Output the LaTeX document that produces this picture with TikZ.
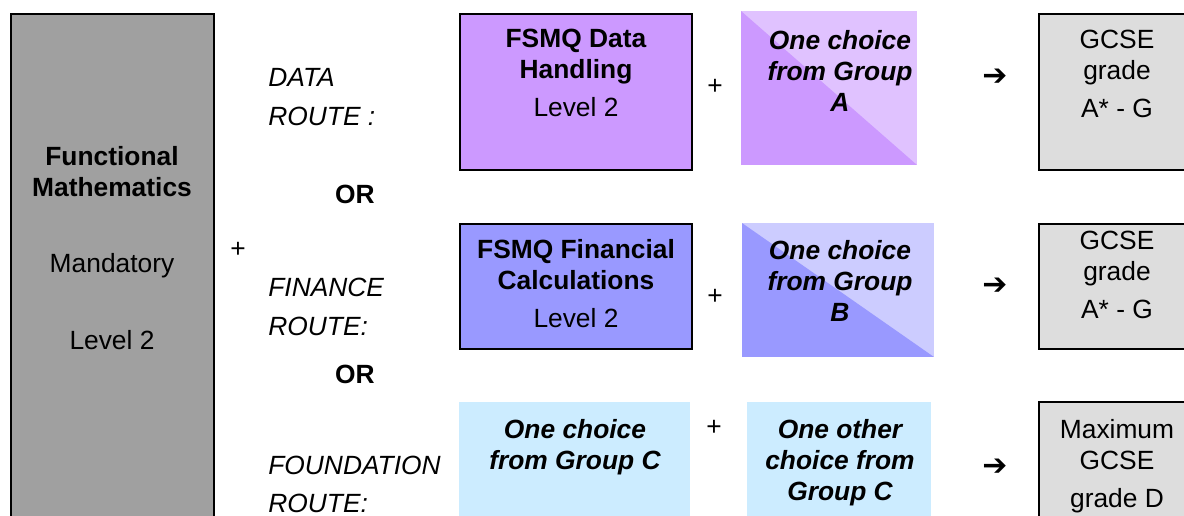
\documentclass[tikz,border=0pt]{standalone}
\usepackage{fontspec}
\setmainfont{Liberation Sans}
\newfontfamily\arrowfont{DejaVu Sans}
\usepackage{tikz}

\definecolor{fmgray}{HTML}{A0A0A0}
\definecolor{datapurple}{HTML}{CC99FF}
\definecolor{datalight}{HTML}{E0C2FF}
\definecolor{finblue}{HTML}{9999FF}
\definecolor{finlight}{HTML}{CCCCFF}
\definecolor{foundcyan}{HTML}{CCECFF}
\definecolor{gcsegray}{HTML}{DDDDDD}

\begin{document}
\begin{tikzpicture}[x=0.02cm, y=-0.02cm,
	every node/.style={font=\fontsize{15}{17.6}\selectfont, inner sep=0pt},
	unitbox/.style={draw=black, line width=1.1pt, fill=#1},
	splitbox/.style 2 args={fill=#2, path picture={
		\fill[#1] (path picture bounding box.north west) -- (path picture bounding box.south east)
			-- (path picture bounding box.south west) -- cycle;}},
	gcsebox/.style={draw=black, line width=1.1pt, fill=gcsegray},
	boxtext/.style={anchor=north, align=center},
	choicetext/.style={anchor=north, align=center, font=\fontsize{15}{17.6}\selectfont\bfseries\itshape},
	routetext/.style={anchor=north west, align=left, font=\fontsize{15}{17.6}\selectfont\itshape},
	ortext/.style={font=\fontsize{15}{17.6}\selectfont\bfseries},
	arrowsign/.style={font=\fontsize{17}{17}\arrowfont\bfseries},
	sign/.style={}]

	\useasboundingbox (0,0) rectangle (1184,515);

	% mandatory column
	\node[draw=black, line width=0.8pt, fill=fmgray, minimum width=4.06cm, minimum height=10.32cm] (fm) at (112.5, 272) {};
	\node[boxtext] (fmtext) at (112, 146) {\textbf{Functional}\\\textbf{Mathematics}\\[26pt]Mandatory\\[26pt]Level 2};
	\node[sign] (plusfm) at (238, 250) {+};

	% data route
	\node[routetext] (dataroute) at (268, 68) {DATA\\[4.5pt]ROUTE :};
	\node[unitbox=datapurple, minimum width=4.64cm, minimum height=3.12cm] (data) at (576, 92) {};
	\node[boxtext] (datatext) at (576, 29) {\textbf{FSMQ Data}\\\textbf{Handling}\\[4pt]Level 2};
	\node[sign] (plusa) at (715, 87) {+};
	\node[splitbox={datapurple}{datalight}, minimum width=3.52cm, minimum height=3.08cm] (grpa) at (829, 88) {};
	\node[choicetext] (grpatext) at (840, 30) {One choice\\from Group\\A};
	\node[arrowsign] (arra) at (995, 77) {➔};
	\node[gcsebox, minimum width=3.02cm, minimum height=3.12cm] (gcsea) at (1114.5, 92) {};
	\node[boxtext] (gcseatext) at (1117, 30) {GCSE\\grade\\[4pt]A* - G};

	\node[ortext] (or1) at (355, 194) {OR};

	% finance route
	\node[routetext] (finroute) at (268, 278) {FINANCE\\[4.5pt]ROUTE:};
	\node[unitbox=finblue, minimum width=4.64cm, minimum height=2.5cm] (fin) at (576, 286.5) {};
	\node[boxtext] (fintext) at (576, 239) {\textbf{FSMQ Financial}\\\textbf{Calculations}\\[4pt]Level 2};
	\node[sign] (plusb) at (715, 297) {+};
	\node[splitbox={finblue}{finlight}, minimum width=3.84cm, minimum height=2.68cm] (grpb) at (838, 290) {};
	\node[choicetext] (grpbtext) at (840, 240) {One choice\\from Group\\B};
	\node[arrowsign] (arrb) at (995, 286) {➔};
	\node[gcsebox, minimum width=3.02cm, minimum height=2.5cm] (gcseb) at (1114.5, 286.5) {};
	\node[boxtext] (gcsebtext) at (1117, 231) {GCSE\\grade\\[4pt]A* - G};

	\node[ortext] (or2) at (355, 374) {OR};

	% foundation route
	\node[routetext] (foundroute) at (268, 456) {FOUNDATION\\[4pt]ROUTE:};
	\node[fill=foundcyan, minimum width=4.62cm, minimum height=2.56cm] (grpc) at (574.5, 466) {};
	\node[choicetext] (grpctext) at (575, 419) {One choice\\from Group C};
	\node[sign] (plusc) at (714, 428) {+};
	\node[fill=foundcyan, minimum width=3.68cm, minimum height=2.56cm] (othc) at (839, 466) {};
	\node[choicetext] (othctext) at (840, 419) {One other\\choice from\\Group C};
	\node[arrowsign] (arrc) at (995, 467) {➔};
	\node[gcsebox, minimum width=3.02cm, minimum height=2.56cm] (gcsec) at (1114.5, 466) {};
	\node[boxtext] (gcsectext) at (1117, 419) {Maximum\\GCSE\\[4pt]grade D};

\end{tikzpicture}
\end{document}
